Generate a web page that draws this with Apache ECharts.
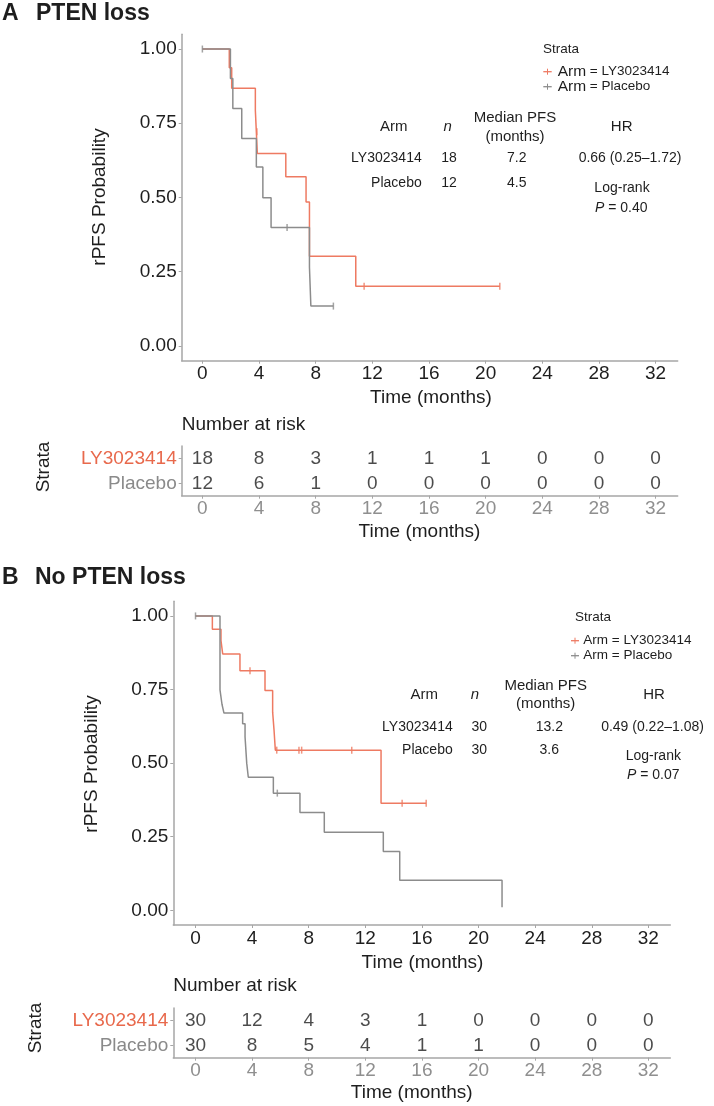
<!DOCTYPE html>
<html>
<head>
<meta charset="utf-8">
<script src="https://cdn.jsdelivr.net/npm/echarts@6/dist/echarts.min.js"></script>
<style>
html,body{margin:0;padding:0;background:#fff;}
#c{width:714px;height:1106px;}
</style>
</head>
<body>
<div id="c"></div>
<script>
// ---------------- DATA ----------------
const timeTicks = [0, 4, 8, 12, 16, 20, 24, 28, 32];
const probTicks = [0, 0.25, 0.5, 0.75, 1];
const armNames = ['LY3023414', 'Placebo'];

// Panel A – PTEN loss
const aLyTime = [0, 1.90, 2.07, 3.74, 3.81, 3.88, 5.89, 7.32, 7.56, 10.83, 21.0];
const aLySurv = [1, 0.937, 0.868, 0.794, 0.721, 0.648, 0.570, 0.485, 0.302, 0.201, 0.201];
const aLyCensTime = [3.85, 11.42, 21.0];
const aLyCensSurv = [0.721, 0.201, 0.201];
const aPlTime = [0, 1.98, 2.15, 2.78, 3.81, 4.27, 4.85, 7.56, 7.66, 9.25];
const aPlSurv = [1, 0.901, 0.800, 0.699, 0.603, 0.499, 0.399, 0.266, 0.134, 0.134];
const aPlCensTime = [0, 5.98, 9.25];
const aPlCensSurv = [1, 0.399, 0.134];
const aRiskLy = [18, 8, 3, 1, 1, 1, 0, 0, 0];
const aRiskPl = [12, 6, 1, 0, 0, 0, 0, 0, 0];
const aN = [18, 12];
const aMedian = ['7.2', '4.5'];
const aHR = '0.66 (0.25\u20131.72)';
const aP = '0.40';

// Panel B – No PTEN loss
const bLyTime = [0, 1.19, 1.80, 1.92, 3.14, 4.91, 5.45, 5.55, 5.64, 13.11, 16.3];
const bLySurv = [1, 0.955, 0.916, 0.871, 0.814, 0.747, 0.673, 0.611, 0.544, 0.364, 0.364];
const bLyCensTime = [3.85, 5.74, 7.31, 7.50, 11.04, 14.6, 16.3];
const bLyCensSurv = [0.814, 0.544, 0.544, 0.544, 0.544, 0.364, 0.364];
const bPlTime = [0, 1.73, 1.87, 2.01, 3.33, 3.50, 3.62, 3.73, 5.50, 7.38, 9.10, 13.27, 14.43, 21.66];
const bPlSurv = [1, 0.749, 0.700, 0.670, 0.634, 0.589, 0.499, 0.452, 0.398, 0.332, 0.265, 0.200, 0.102, 0.01];
const bPlCensTime = [0, 5.78];
const bPlCensSurv = [1, 0.398];
const bRiskLy = [30, 12, 4, 3, 1, 0, 0, 0, 0];
const bRiskPl = [30, 8, 5, 4, 1, 1, 0, 0, 0];
const bN = [30, 30];
const bMedian = ['13.2', '3.6'];
const bHR = '0.49 (0.22\u20131.08)';
const bP = '0.07';

// ---------------- STYLE ----------------
const FONT = "'Liberation Sans', Arial, Helvetica, sans-serif";
const RED = '#ee7a62';
const GRAY = '#8c8c8c';
const RED_TXT = '#e8694c';
const GRAY_TXT = '#8a8a8a';
const AXIS = '#a6a6a6';
const INK = '#1e1e1e';

const chart = echarts.init(document.getElementById('c'), null, {renderer: 'canvas'});

const zip = (a, b) => a.map((v, i) => [v, b[i]]);

function mainX(gi, min, max) {
  return {
    gridIndex: gi, type: 'value', min: min, max: max,
    axisLine: {show: true, onZero: false, lineStyle: {color: AXIS, width: 1.5}},
    axisTick: {show: true, customValues: timeTicks, length: 3, lineStyle: {color: AXIS, width: 1}},
    axisLabel: {customValues: timeTicks, fontSize: 19, color: INK, margin: 4, fontFamily: FONT},
    splitLine: {show: false}
  };
}
function riskX(gi, min, max) {
  const o = mainX(gi, min, max);
  o.axisLabel = Object.assign({}, o.axisLabel, {color: '#8f8f8f'});
  return o;
}
function mainY(gi) {
  return {
    gridIndex: gi, type: 'value', min: -0.05, max: 1.05,
    axisLine: {show: true, onZero: false, lineStyle: {color: AXIS, width: 1.5}},
    axisTick: {show: true, customValues: probTicks, length: 3, lineStyle: {color: AXIS, width: 1}},
    axisLabel: {customValues: probTicks, fontSize: 19, color: INK, margin: 5, fontFamily: FONT,
      formatter: v => Number(v).toFixed(2)},
    splitLine: {show: false}
  };
}
function riskY(gi) {
  return {
    gridIndex: gi, type: 'category', data: armNames.slice().reverse(),
    axisLine: {show: true, onZero: false, lineStyle: {color: AXIS, width: 1.5}},
    axisTick: {show: true, alignWithLabel: true, length: 3, lineStyle: {color: AXIS, width: 1}},
    axisLabel: {fontSize: 19, margin: 5, fontFamily: FONT,
      formatter: v => (v === armNames[0] ? '{r|' + v + '}' : '{g|' + v + '}'),
      rich: {r: {color: RED_TXT, fontSize: 19, fontFamily: FONT}, g: {color: GRAY_TXT, fontSize: 19, fontFamily: FONT}}},
    splitLine: {show: false}
  };
}

function kmSeries(gi, t, s, color, z) {
  return {type: 'line', xAxisIndex: gi, yAxisIndex: gi, step: 'end', data: zip(t, s),
    showSymbol: false, symbol: 'none', lineStyle: {color: color, width: 1.5}, z: z, silent: true};
}
function censSeries(gi, t, s, color, z) {
  return {type: 'scatter', xAxisIndex: gi, yAxisIndex: gi, data: zip(t, s), symbol: 'rect',
    symbolSize: [1.5, 7], itemStyle: {color: color}, z: z, silent: true};
}
function riskSeries(gi, counts, arm) {
  return {type: 'scatter', xAxisIndex: gi, yAxisIndex: gi,
    data: timeTicks.map((t, i) => [t, arm, counts[i]]),
    symbolSize: 1, itemStyle: {color: 'rgba(0,0,0,0)'}, silent: true,
    label: {show: true, position: 'inside', formatter: p => String(p.value[2]),
      fontSize: 19, color: INK, fontFamily: FONT}};
}

function txt(x, y, text, o) {
  o = o || {};
  const style = {text: text, fontSize: o.size || 19, fontFamily: FONT, fill: o.fill || INK,
    fontWeight: o.weight || 'normal', align: o.align || 'center', verticalAlign: 'middle',
    textAlign: o.align || 'center', textVerticalAlign: 'middle'};
  if (o.rich) style.rich = o.rich;
  if (o.fontStyle) style.fontStyle = o.fontStyle;
  const g = {type: 'text', x: x, y: y, style: style, silent: true};
  if (o.rotation) g.rotation = o.rotation;
  return g;
}
function dash(x1, x2, y, color, plus) {
  const els = [{type: 'line', shape: {x1: x1, y1: y, x2: x2, y2: y}, style: {stroke: color, lineWidth: 1.3}, silent: true}];
  if (plus) {
    const xm = (x1 + x2) / 2;
    els.push({type: 'line', shape: {x1: xm, y1: y - 3, x2: xm, y2: y + 3}, style: {stroke: color, lineWidth: 1}, silent: true});
  }
  return els;
}

function annot(p) {
  const g = [];
  g.push(txt(p.strataX, p.strataY, 'Strata', {size: 13.5}));
  g.push(...dash(p.dashX1, p.dashX2, p.leg1Y, RED, true));
  g.push(...dash(p.dashX1, p.dashX2, p.leg2Y, GRAY, true));
  const legRich = {a: {fontSize: p.armSize, fontFamily: FONT, fill: INK, color: INK},
                   b: {fontSize: 13.5, fontFamily: FONT, fill: INK, color: INK}};
  g.push(txt(p.legTextX, p.leg1Y, '{a|Arm}{b| = ' + armNames[0] + '}', {align: 'left', rich: legRich}));
  g.push(txt(p.legTextX, p.leg2Y, '{a|Arm}{b| = ' + armNames[1] + '}', {align: 'left', rich: legRich}));
  g.push(txt(p.armX, p.hdrY, 'Arm', {size: 15}));
  g.push(txt(p.nX, p.hdrY, 'n', {size: 15, fontStyle: 'italic'}));
  g.push(txt(p.medX, p.hdrY - 9, 'Median PFS', {size: 15}));
  g.push(txt(p.medX, p.hdrY + 9.5, '(months)', {size: 15}));
  g.push(txt(p.hrX, p.hdrY, 'HR', {size: 15}));
  for (let i = 0; i < 2; i++) {
    const y = p.rowY[i];
    g.push(txt(p.nameRight, y, armNames[i], {size: 14, align: 'right'}));
    g.push(txt(p.nValX, y, String(p.n[i]), {size: 14}));
    g.push(txt(p.medValX, y, p.median[i], {size: 14}));
  }
  g.push(txt(p.hrValX, p.rowY[0], p.hr, {size: 14}));
  g.push(txt(p.lrX, p.lrY, 'Log-rank', {size: 14}));
  g.push(txt(p.pX, p.pY, '{i|P} = ' + p.p, {size: 14,
    rich: {i: {fontStyle: 'italic', fontSize: 14, fontFamily: FONT, fill: INK, color: INK}}}));
  return g;
}

const graphics = [];
graphics.push(txt(2, 14, 'A', {size: 23, weight: 'bold', align: 'left'}));
graphics.push(txt(36, 14, 'PTEN loss', {size: 23, weight: 'bold', align: 'left'}));
graphics.push(txt(2, 578, 'B', {size: 23, weight: 'bold', align: 'left'}));
graphics.push(txt(35, 578, 'No PTEN loss', {size: 23, weight: 'bold', align: 'left'}));
graphics.push(txt(100, 197, 'rPFS Probability', {rotation: Math.PI / 2}));
graphics.push(txt(92, 764, 'rPFS Probability', {rotation: Math.PI / 2}));
graphics.push(txt(431, 398, 'Time (months)'));
graphics.push(txt(422.5, 963, 'Time (months)'));
graphics.push(txt(419.5, 531.5, 'Time (months)'));
graphics.push(txt(411.7, 1093, 'Time (months)'));
graphics.push(txt(181.7, 425, 'Number at risk', {align: 'left'}));
graphics.push(txt(173.3, 986, 'Number at risk', {align: 'left'}));
graphics.push(txt(43.5, 467, 'Strata', {rotation: Math.PI / 2}));
graphics.push(txt(36, 1028, 'Strata', {rotation: Math.PI / 2}));

graphics.push(...annot({
  strataX: 561, strataY: 49.3, dashX1: 543.3, dashX2: 551.7, leg1Y: 71.7, leg2Y: 86.7,
  legTextX: 557.7, armSize: 15.5,
  armX: 393.7, nX: 447.7, medX: 515, hrX: 621.7, hdrY: 127,
  rowY: [158.3, 182.7], nameRight: 421.7, nValX: 449, medValX: 516.7, hrValX: 630,
  lrX: 622, lrY: 187.7, pX: 621.2, pY: 208.3,
  n: aN, median: aMedian, hr: aHR, p: aP
}));
graphics.push(...annot({
  strataX: 593, strataY: 617.3, dashX1: 571, dashX2: 579, leg1Y: 640.7, leg2Y: 655.7,
  legTextX: 583.3, armSize: 13.5,
  armX: 424.2, nX: 475, medX: 545.7, hrX: 654, hdrY: 694.5,
  rowY: [726.7, 750], nameRight: 452.7, nValX: 479.3, medValX: 549.3, hrValX: 652.5,
  lrX: 653.3, lrY: 755.7, pX: 653.3, pY: 775,
  n: bN, median: bMedian, hr: bHR, p: bP
}));

const aMin = -1.46, aMax = 33.56, bMin = -1.57, bMax = 33.55;

const option = {
  animation: false,
  backgroundColor: '#ffffff',
  grid: [
    {left: 181.7, width: 496, top: 34.2, height: 326.5, containLabel: false},
    {left: 181.7, width: 496, top: 446, height: 49.7, containLabel: false},
    {left: 173.3, width: 497, top: 601.2, height: 323.8, containLabel: false},
    {left: 173.3, width: 497, top: 1008, height: 49.7, containLabel: false}
  ],
  xAxis: [mainX(0, aMin, aMax), riskX(1, aMin, aMax), mainX(2, bMin, bMax), riskX(3, bMin, bMax)],
  yAxis: [mainY(0), riskY(1), mainY(2), riskY(3)],
  series: [
    kmSeries(0, aLyTime, aLySurv, RED, 2),
    kmSeries(0, aPlTime, aPlSurv, GRAY, 3),
    censSeries(0, aLyCensTime, aLyCensSurv, RED, 4),
    censSeries(0, aPlCensTime, aPlCensSurv, GRAY, 4),
    riskSeries(1, aRiskLy, armNames[0]),
    riskSeries(1, aRiskPl, armNames[1]),
    kmSeries(2, bLyTime, bLySurv, RED, 2),
    kmSeries(2, bPlTime, bPlSurv, GRAY, 3),
    censSeries(2, bLyCensTime, bLyCensSurv, RED, 4),
    censSeries(2, bPlCensTime, bPlCensSurv, GRAY, 4),
    riskSeries(3, bRiskLy, armNames[0]),
    riskSeries(3, bRiskPl, armNames[1])
  ],
  graphic: {elements: graphics}
};
chart.setOption(option);
</script>
</body>
</html>
